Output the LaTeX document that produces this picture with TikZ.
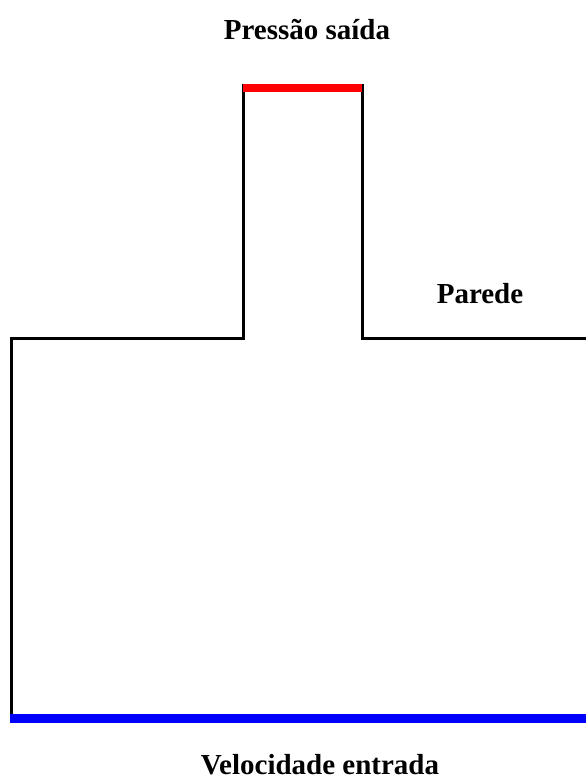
\documentclass[tikz,border=0pt]{standalone}
\usepackage{fontspec}
\setmainfont{Liberation Serif}
\begin{document}
\begin{tikzpicture}[x=1pt,y=-1pt,
  wall/.style={line width=3pt,black,line cap=butt},
  outlet/.style={line width=8pt,red},
  inlet/.style={line width=9pt,blue},
  lbl/.style={font=\fontsize{29}{34}\selectfont\bfseries,anchor=base,inner sep=0pt}]
\useasboundingbox (0,0) rectangle (586,781);
\coordinate (a) at (11.5,718);
\coordinate (b) at (11.5,338.5);
\coordinate (c) at (243,338.5);
\coordinate (d) at (243,88);
\coordinate (e) at (362,88);
\coordinate (f) at (362,338.5);
\coordinate (g) at (586,338.5);
\coordinate (h) at (586,718);
\draw[wall] (a) -- (b) -- (c) -- (243,84);
\draw[wall] (362,84) -- (f) -- (g);
\draw[outlet] (243,88) -- (e);
\draw[inlet] (10,718) -- (h);
\node[lbl] (t1) at (307,40) {Pressão saída};
\node[lbl] (t2) at (480,303) {Parede};
\node[lbl] (t3) at (320,774) {Velocidade entrada};
\end{tikzpicture}
\end{document}
